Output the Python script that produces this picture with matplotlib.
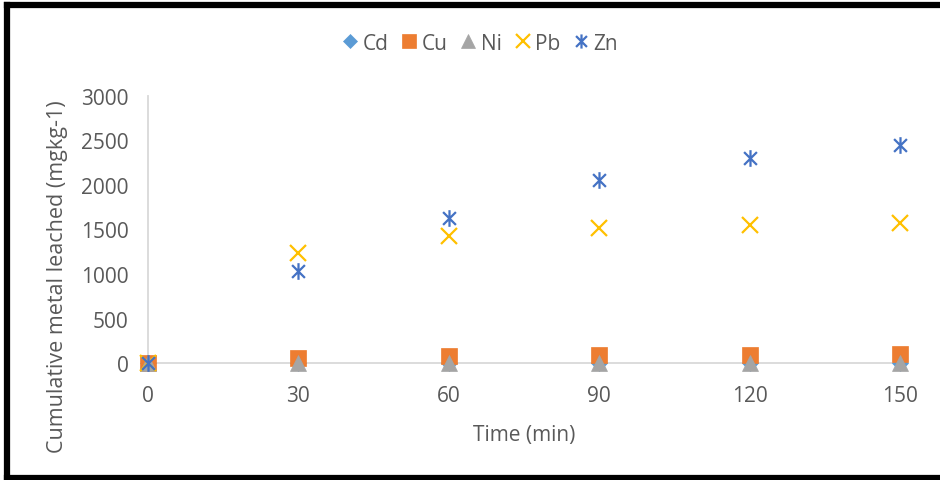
import matplotlib
matplotlib.use("Agg")
import matplotlib.pyplot as plt
from matplotlib.path import Path
from matplotlib.lines import Line2D

plt.rcParams['font.family'] = ['Open Sans', 'DejaVu Sans']

time_min = [0, 30, 60, 90, 120, 150]
cd = [0, 1, 1, 1, 1, 1]
cu = [0, 60, 75, 85, 95, 105]
ni = [0, 2, 2, 2, 2, 2]
pb = [0, 1240, 1430, 1520, 1550, 1575]
zn = [0, 1035, 1630, 2055, 2305, 2450]

# excel style asterisk: x plus vertical bar
star = Path([(-1, -1), (1, 1), (-1, 1), (1, -1), (0, -1.3), (0, 1.3)],
            [Path.MOVETO, Path.LINETO, Path.MOVETO, Path.LINETO, Path.MOVETO, Path.LINETO])

series = [
    ("Cd", cd, "D", "#5b9bd5", 8.5),
    ("Cu", cu, "s", "#ed7d31", 12),
    ("Ni", ni, "^", "#a5a5a5", 12),
    ("Pb", pb, "x", "#ffc000", 11.5),
    ("Zn", zn, star, "#4472c4", 12),
]

fig = plt.figure(figsize=(9.4, 4.81), dpi=100)
ax = fig.add_axes([148 / 940, 1 - 364 / 481, 752 / 940, 267 / 481])

handles = []
for name, vals, mk, col, ms in series:
    lw = 1.6 if (mk == "x" or mk is star) else 0.5
    ax.plot(time_min, vals, linestyle="none", marker=mk, color=col, markersize=ms,
            markeredgewidth=lw, clip_on=False, zorder=3)
    handles.append(Line2D([], [], linestyle="none", marker=mk, color=col,
                          markersize=ms * 0.85, markeredgewidth=lw, label=name))

ax.set_xlim(0, 150)
ax.set_ylim(0, 3000)
ax.set_xticks(time_min)
ax.set_yticks(range(0, 3001, 500))

for s in ("top", "right"):
    ax.spines[s].set_visible(False)
for s in ("left", "bottom"):
    ax.spines[s].set_color("#d9d9d9")
    ax.spines[s].set_linewidth(1.3)
ax.tick_params(length=0, labelsize=15, colors="#595959")
ax.tick_params(axis="x", pad=15.5)
ax.tick_params(axis="y", pad=14)

ax.set_xlabel("Time (min)", fontsize=15, color="#595959", labelpad=13)
fig.text(58 / 940, 1 - 277 / 481, "Cumulative metal leached (mgkg-1)", rotation=90,
         fontsize=15.5, color="#595959", ha="center", va="center")

fig.legend(handles=handles, loc="center", bbox_to_anchor=(481 / 940, 1 - 44 / 481),
           ncol=5, frameon=False, fontsize=15, handlelength=0.6, handletextpad=0.3,
           columnspacing=0.7, labelcolor="#595959")

# black frame around the chart (right side cut off)
for xs, ys in [((7 / 940, 7 / 940), (0, 1 - 6 / 481)),
               ((7 / 940, 1), (1 - 6 / 481, 1 - 6 / 481)),
               ((7 / 940, 1), (2 / 481, 2 / 481))]:
    fig.add_artist(Line2D(xs, ys, color="black", linewidth=4.5))

fig.savefig("out.png", dpi=100)
